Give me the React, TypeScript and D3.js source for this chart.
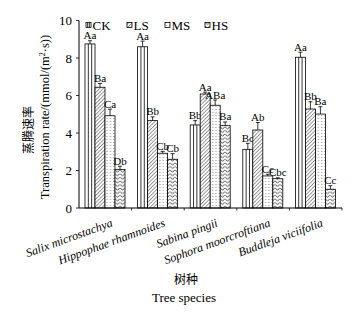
import React from "react";
import * as d3 from "d3";

const species = ["Salix microstachya", "Hippophae rhamnoides", "Sabina pingii", "Sophora moorcroftiana", "Buddleja viciifolia"];
const series = ["CK", "LS", "MS", "HS"];
const CK = [8.75, 8.6, 4.43, 3.13, 8.04];
const LS = [6.44, 4.66, 6.08, 4.16, 5.28];
const MS = [4.92, 2.92, 5.48, 1.71, 5.01];
const HS = [2.06, 2.6, 4.39, 1.56, 1.0];
const CKerr = [0.17, 0.3, 0.23, 0.32, 0.27];
const LSerr = [0.2, 0.2, 0.1, 0.4, 0.39];
const MSerr = [0.35, 0.1, 0.28, 0.09, 0.39];
const HSerr = [0.17, 0.3, 0.2, 0.05, 0.19];
const CKlab = ["Aa", "Aa", "Bb", "Bc", "Aa"];
const LSlab = ["Ba", "Bb", "Aa", "Ab", "Bb"];
const MSlab = ["Ca", "Cb", "ABa", "Cc", "Ba"];
const HSlab = ["Db", "Cb", "Ba", "Cbc", "Cc"];
const yTicks = [0, 2, 4, 6, 8, 10];

const values = [CK, LS, MS, HS];
const errs = [CKerr, LSerr, MSerr, HSerr];
const labs = [CKlab, LSlab, MSlab, HSlab];

const W = 358, H = 315;
const serif = "'Liberation Serif', 'Times New Roman', serif";
const cjk = "'Noto Sans CJK SC', sans-serif";

export default function App() {
  const x0 = d3.scaleBand<string>().domain(species).range([79, 342]).padding(0);
  const bw = x0.bandwidth();
  const x1 = d3.scaleBand<string>().domain(series).range([6, bw - 6.6]).padding(0);
  const y = d3.scaleLinear().domain([0, 10]).range([208, 20.5]);
  const b = x1.bandwidth();

  const fills = ["url(#pCK)", "url(#pLS)", "url(#pMS)", "url(#pHS)"];

  const drawBar = (si: number, x: number, top: number, bottom: number, w: number, key: string) => {
    const h = bottom - top;
    return (
      <g key={key}>
        <rect x={x} y={top} width={w} height={h} fill={si === 0 ? "white" : fills[si]} stroke="black" strokeWidth={0.8} />
        {si === 0 && [1, 2].map((k) => (
          <line key={k} x1={x + (w * k) / 3} x2={x + (w * k) / 3} y1={top} y2={bottom} stroke="black" strokeWidth={0.8} />
        ))}
      </g>
    );
  };

  return (
    <svg width={W} height={H} style={{ position: "absolute", left: 0, top: 0, background: "white" }}>
      <defs>
        <pattern id="pLS" patternUnits="userSpaceOnUse" width={2.6} height={2.6} patternTransform="rotate(45)">
          <rect width={2.6} height={2.6} fill="white" />
          <line x1={0} y1={0} x2={0} y2={2.6} stroke="black" strokeWidth={0.8} />
        </pattern>
        <pattern id="pMS" patternUnits="userSpaceOnUse" width={3.3} height={3}>
          <rect width={3.3} height={3} fill="white" />
          <circle cx={1.6} cy={1.5} r={0.45} fill="#333" />
        </pattern>
        <pattern id="pHS" patternUnits="userSpaceOnUse" width={5} height={3.6}>
          <rect width={5} height={3.6} fill="white" />
          <path d="M0,0.6 L2.5,3 L5,0.6" fill="none" stroke="black" strokeWidth={0.7} />
        </pattern>
      </defs>

      {/* bars */}
      {species.map((sp, i) => (
        <g key={sp}>
          {series.map((s, si) => {
            const bx = (x0(sp) as number) + (x1(s) as number);
            const v = values[si][i];
            const e = errs[si][i];
            const cx = bx + b / 2;
            return (
              <g key={s}>
                {drawBar(si, bx, y(v), y(0), b, "b")}
                <line x1={cx} x2={cx} y1={y(v)} y2={y(v + e)} stroke="black" strokeWidth={0.8} />
                <line x1={cx - 2} x2={cx + 2} y1={y(v + e)} y2={y(v + e)} stroke="black" strokeWidth={0.8} />
                <text x={cx} y={y(v + e) - 1.5} textAnchor="middle" fontFamily={serif} fontSize={11}>{labs[si][i]}</text>
              </g>
            );
          })}
        </g>
      ))}

      {/* axes */}
      <line x1={79} x2={79} y1={y(10)} y2={y(0)} stroke="black" strokeWidth={1} />
      <line x1={79} x2={342} y1={y(0)} y2={y(0)} stroke="black" strokeWidth={1.2} />
      {yTicks.map((t) => (
        <g key={t}>
          <line x1={76} x2={79} y1={y(t)} y2={y(t)} stroke="black" strokeWidth={0.8} />
          <text x={72} y={y(t)} dy="0.35em" textAnchor="end" fontFamily={serif} fontSize={13}>{t}</text>
        </g>
      ))}
      {species.map((sp) => {
        const xe = (x0(sp) as number) + bw;
        return <line key={sp} x1={xe} x2={xe} y1={y(0)} y2={y(0) + 2.5} stroke="black" strokeWidth={0.8} />;
      })}
      {species.map((sp) => {
        const cx = (x0(sp) as number) + bw / 2 + 8;
        return (
          <text key={sp} transform={`translate(${cx},226) rotate(-20)`} textAnchor="end" fontFamily={serif} fontStyle="italic" fontSize={12}>{sp}</text>
        );
      })}

      {/* legend */}
      {series.map((s, si) => {
        const lx = [86, 127, 165, 205][si];
        return (
          <g key={s}>
            {drawBar(si, lx, 22.5, 27.5, 5, "l")}
            <text x={lx + 6.5} y={29.5} fontFamily={serif} fontSize={13}>{s}</text>
          </g>
        );
      })}

      {/* axis titles */}
      <text transform="translate(33,130) rotate(-90)" textAnchor="middle" fontFamily={cjk} fontSize={12}>蒸腾速率</text>
      <text transform="translate(49,117) rotate(-90)" textAnchor="middle" fontFamily={serif} fontSize={12.5}>
        Transpiration rate/(mmol/(m<tspan dy={-4} fontSize={8}>2</tspan><tspan dy={4}>·s))</tspan>
      </text>
      <text x={186} y={284} textAnchor="middle" fontFamily={cjk} fontSize={12}>树种</text>
      <text x={184} y={302} textAnchor="middle" fontFamily={serif} fontSize={13}>Tree species</text>
    </svg>
  );
}
